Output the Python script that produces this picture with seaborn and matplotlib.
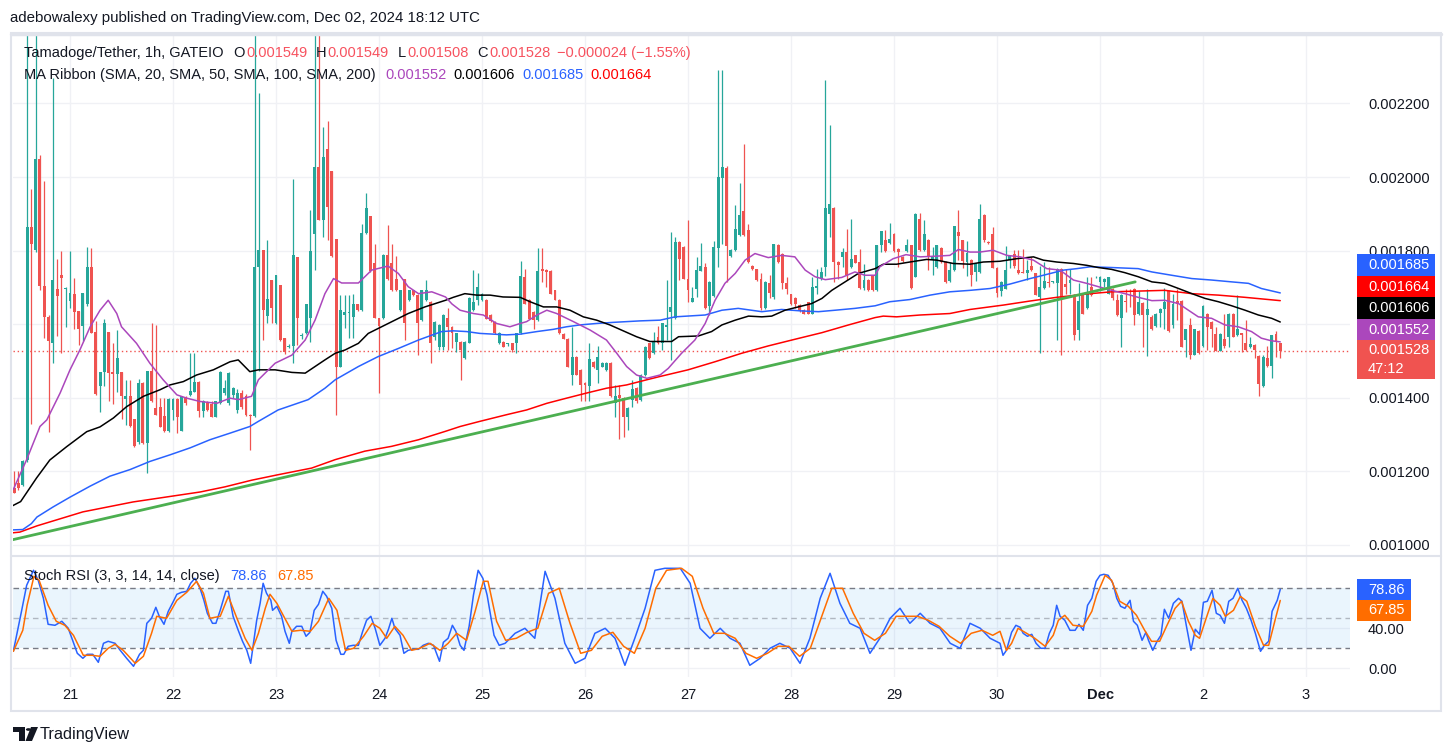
import numpy as np
import matplotlib
matplotlib.use("Agg")
import matplotlib.pyplot as plt
import seaborn as sns
from matplotlib.patches import Rectangle, Polygon, Circle
from matplotlib.lines import Line2D

# prices are in units of 1e-6 USDT, time in hours counted from Nov 21 00:00 UTC
first_hour = -13

opens = [
    1155, 1168, 1162, 1232, 1864, 1801, 2049, 1703, 1620, 1550, 1697, 1735, 1697,
    1664, 1683, 1637, 1596, 1656, 1755, 1580, 1431, 1469, 1580, 1469, 1466, 1469, 1396, 1405, 1342, 1279, 1440, 1276, 1474, 1372, 1376, 1351, 1309,
    1367, 1396, 1311, 1399, 1408, 1417, 1444, 1363, 1389, 1383, 1349, 1385, 1413, 1385, 1408, 1367, 1413, 1404, 1354, 1350, 1756, 1801, 1622, 1720,
    1602, 1706, 1563, 1537, 1541, 1783, 1568, 1575, 1616, 1846, 2028, 1884, 2076, 2015, 1832, 1485, 1625, 1630, 1620, 1654, 1638, 1848, 1893, 1765,
    1618, 1616, 1788, 1765, 1724, 1638, 1722, 1665, 1692, 1679, 1611, 1665, 1661, 1566, 1539, 1539, 1616, 1593, 1552, 1552, 1507, 1550, 1638, 1665,
    1666, 1666, 1625, 1607, 1548, 1552, 1546, 1548, 1548, 1575, 1729, 1666, 1634, 1611, 1749, 1747, 1745, 1692, 1667, 1573, 1561, 1463, 1512, 1476,
    1440, 1431, 1498, 1476, 1485, 1476, 1494, 1385, 1408, 1399, 1349, 1394, 1426, 1394, 1462, 1548, 1521, 1566, 1548, 1593, 1634, 1616, 1823, 1810,
    1724, 1661, 1697, 1745, 1756, 1650, 1677, 1808, 1998, 2024, 1784, 1801, 1842, 1907, 1855, 1758, 1749, 1724, 1643, 1711, 1675, 1815, 1792, 1711,
    1681, 1672, 1652, 1638, 1659, 1629, 1699, 1724, 1756, 1900, 1916, 1769, 1783, 1797, 1756, 1787, 1769, 1699, 1720, 1733, 1692, 1814, 1830, 1821,
    1846, 1804, 1783, 1799, 1814, 1729, 1887, 1801, 1830, 1774, 1756, 1808, 1769, 1717, 1747, 1851, 1828, 1769, 1774, 1742, 1742, 1898, 1823, 1844,
    1754, 1690, 1697, 1774, 1790, 1748, 1742, 1738, 1758, 1738, 1673, 1699, 1716, 1714, 1711, 1751, 1708, 1712, 1679, 1584, 1683, 1643, 1701, 1727,
    1715, 1715, 1683, 1697, 1665, 1616, 1662, 1661, 1697, 1628, 1658, 1625, 1620, 1596, 1631, 1641, 1690, 1598, 1663, 1663, 1557, 1598, 1517, 1582,
    1541, 1629, 1607, 1573, 1528, 1559, 1566, 1629, 1571, 1575, 1548, 1537, 1544, 1514, 1431, 1507, 1487, 1573, 1549,
]
highs = [
    1200, 1200, 1232, 2400, 1968, 2400, 2060, 1990, 1625, 2269, 1776, 1798, 1702,
    1798, 1726, 1637, 1686, 1810, 1808, 1608, 1469, 1613, 1580, 1548, 1585, 1469, 1449, 1449, 1342, 1450, 1442, 1474, 1602, 1598, 1399, 1399, 1399,
    1399, 1399, 1404, 1404, 1521, 1521, 1446, 1394, 1391, 1392, 1392, 1473, 1449, 1470, 1430, 1425, 1420, 1410, 1356, 2400, 2227, 1801, 1828, 1720,
    1735, 1706, 1563, 1545, 1995, 1783, 1575, 1656, 1909, 2400, 2400, 2135, 2153, 2015, 1832, 1679, 1679, 1679, 1681, 1656, 1871, 1957, 1895, 1819,
    1618, 1790, 1869, 1819, 1784, 1694, 1724, 1694, 1694, 1681, 1694, 1719, 1663, 1609, 1600, 1627, 1643, 1595, 1577, 1555, 1554, 1674, 1747, 1738,
    1684, 1668, 1627, 1609, 1579, 1554, 1550, 1550, 1577, 1771, 1749, 1668, 1636, 1806, 1806, 1750, 1747, 1694, 1669, 1575, 1563, 1593, 1514, 1478,
    1442, 1548, 1500, 1540, 1496, 1496, 1496, 1435, 1435, 1401, 1374, 1449, 1430, 1464, 1541, 1550, 1580, 1594, 1604, 1720, 1850, 1837, 1826, 1813,
    1884, 1702, 1783, 1821, 1767, 1717, 1825, 2290, 2290, 2030, 1803, 1925, 1984, 2091, 1871, 1760, 1751, 1738, 1717, 1733, 1819, 1819, 1794, 1729,
    1683, 1674, 1654, 1640, 1661, 1727, 1749, 1756, 2263, 2142, 1918, 1771, 1806, 1858, 1886, 1789, 1805, 1763, 1722, 1735, 1816, 1854, 1857, 1876,
    1848, 1806, 1785, 1832, 1816, 1902, 1902, 1882, 1832, 1810, 1816, 1810, 1771, 1769, 1868, 1909, 1830, 1826, 1776, 1767, 1927, 1900, 1825, 1864,
    1756, 1717, 1812, 1789, 1801, 1801, 1804, 1774, 1783, 1740, 1758, 1769, 1756, 1718, 1753, 1753, 1751, 1751, 1681, 1713, 1685, 1729, 1729, 1731,
    1731, 1726, 1729, 1699, 1681, 1681, 1697, 1697, 1699, 1690, 1661, 1697, 1624, 1631, 1643, 1699, 1692, 1683, 1697, 1665, 1588, 1616, 1588, 1584,
    1651, 1631, 1609, 1593, 1575, 1627, 1631, 1631, 1679, 1577, 1611, 1566, 1546, 1516, 1516, 1541, 1572, 1582, 1549,
]
lows = [
    1140, 1150, 1160, 1225, 1329, 1795, 1692, 1562, 1306, 1494, 1568, 1523, 1593,
    1645, 1588, 1543, 1553, 1650, 1575, 1408, 1361, 1431, 1392, 1383, 1415, 1342, 1325, 1320, 1265, 1275, 1274, 1196, 1388, 1352, 1320, 1306, 1307,
    1340, 1304, 1309, 1380, 1405, 1415, 1349, 1349, 1365, 1347, 1347, 1383, 1408, 1380, 1400, 1360, 1370, 1350, 1259, 1348, 1474, 1557, 1602, 1602,
    1600, 1555, 1520, 1535, 1494, 1543, 1560, 1573, 1552, 1746, 1882, 1837, 1828, 1783, 1354, 1483, 1590, 1563, 1563, 1636, 1636, 1846, 1743, 1616,
    1413, 1614, 1720, 1690, 1690, 1636, 1557, 1663, 1677, 1516, 1609, 1663, 1494, 1557, 1530, 1530, 1530, 1534, 1525, 1449, 1505, 1548, 1636, 1652,
    1664, 1613, 1607, 1573, 1546, 1537, 1540, 1525, 1521, 1573, 1654, 1613, 1588, 1609, 1715, 1700, 1681, 1665, 1573, 1559, 1483, 1435, 1461, 1390,
    1390, 1390, 1480, 1440, 1483, 1474, 1402, 1349, 1287, 1294, 1313, 1376, 1385, 1392, 1460, 1505, 1519, 1546, 1530, 1557, 1502, 1614, 1720, 1722,
    1661, 1660, 1675, 1744, 1641, 1625, 1675, 1756, 1819, 1714, 1782, 1799, 1840, 1840, 1767, 1747, 1718, 1638, 1641, 1670, 1668, 1765, 1695, 1683,
    1652, 1645, 1634, 1627, 1627, 1627, 1683, 1720, 1731, 1837, 1714, 1724, 1756, 1720, 1754, 1765, 1697, 1692, 1690, 1690, 1690, 1796, 1797, 1819,
    1797, 1756, 1770, 1797, 1697, 1727, 1799, 1799, 1747, 1733, 1754, 1767, 1711, 1715, 1745, 1774, 1754, 1731, 1704, 1717, 1740, 1823, 1819, 1752,
    1675, 1677, 1695, 1753, 1753, 1736, 1738, 1720, 1745, 1678, 1523, 1697, 1701, 1712, 1557, 1517, 1683, 1683, 1557, 1557, 1627, 1641, 1677, 1725,
    1690, 1700, 1681, 1667, 1622, 1539, 1634, 1647, 1598, 1626, 1539, 1514, 1584, 1592, 1592, 1587, 1580, 1589, 1611, 1537, 1512, 1505, 1515, 1519,
    1539, 1530, 1539, 1526, 1526, 1534, 1539, 1564, 1569, 1524, 1528, 1535, 1508, 1404, 1429, 1484, 1454, 1512, 1508,
]
closes = [
    1142, 1155, 1227, 1864, 1819, 2049, 1703, 1620, 1553, 1721, 1676, 1726, 1699,
    1686, 1632, 1586, 1686, 1755, 1577, 1410, 1469, 1602, 1467, 1464, 1507, 1404, 1405, 1324, 1268, 1440, 1276, 1474, 1390, 1354, 1322, 1311, 1396,
    1396, 1349, 1404, 1385, 1419, 1444, 1363, 1392, 1367, 1349, 1390, 1471, 1426, 1467, 1426, 1413, 1376, 1354, 1350, 1756, 1801, 1638, 1668, 1643,
    1735, 1557, 1524, 1539, 1788, 1616, 1571, 1656, 1799, 2028, 1884, 2054, 1918, 1785, 1485, 1638, 1634, 1634, 1654, 1638, 1848, 1916, 1745, 1618,
    1596, 1788, 1722, 1692, 1692, 1692, 1602, 1692, 1679, 1602, 1692, 1692, 1548, 1607, 1598, 1625, 1593, 1577, 1575, 1530, 1552, 1672, 1661, 1702,
    1681, 1615, 1609, 1575, 1577, 1539, 1548, 1530, 1575, 1731, 1656, 1615, 1611, 1745, 1745, 1742, 1683, 1667, 1575, 1561, 1485, 1512, 1463, 1435,
    1435, 1505, 1485, 1512, 1494, 1494, 1404, 1405, 1399, 1349, 1372, 1423, 1390, 1462, 1539, 1507, 1552, 1548, 1602, 1598, 1648, 1823, 1778, 1724,
    1694, 1672, 1747, 1758, 1643, 1715, 1810, 2000, 2027, 1812, 1801, 1858, 1896, 1842, 1769, 1749, 1720, 1643, 1715, 1686, 1817, 1768, 1713, 1697,
    1654, 1656, 1636, 1629, 1629, 1700, 1703, 1741, 1916, 1927, 1769, 1760, 1797, 1733, 1776, 1767, 1699, 1719, 1692, 1692, 1814, 1852, 1799, 1832,
    1799, 1796, 1772, 1814, 1699, 1900, 1801, 1844, 1783, 1785, 1814, 1769, 1715, 1747, 1866, 1839, 1772, 1794, 1733, 1765, 1887, 1828, 1821, 1754,
    1686, 1715, 1747, 1787, 1757, 1738, 1740, 1748, 1747, 1680, 1700, 1718, 1713, 1716, 1751, 1668, 1700, 1719, 1571, 1664, 1629, 1688, 1679, 1729,
    1729, 1724, 1727, 1670, 1624, 1679, 1659, 1659, 1625, 1661, 1625, 1640, 1588, 1629, 1641, 1661, 1582, 1654, 1654, 1539, 1586, 1517, 1586, 1521,
    1649, 1593, 1586, 1528, 1573, 1541, 1629, 1566, 1586, 1571, 1530, 1546, 1530, 1438, 1512, 1486, 1570, 1552, 1528,
]

# moving averages (hour, value)
sma20_h = [-13.2, -10.1, -7, -5.4, -2.3, 0, 2.3, 4.7, 7, 8.9, 10.9, 12, 15.5, 18.6, 21.7, 24.9, 27.2, 30.3, 34.2, 37.3,
           39.2, 42.3, 43.9, 47.8, 51.7, 54.8, 57.1, 59.4, 61.4, 63.3, 67.2, 70.3, 74.1, 76.5, 78.8, 81.2, 84.3, 87.5, 89,
           90.9, 94, 96.3, 99.4, 102.5, 104.9, 106.4, 108.8, 111.1, 113.4, 117.3, 121.2, 125, 127.4, 129.7, 132, 134.4, 137.5,
           139.4, 142.5, 145.6, 148, 150.3, 152.6, 155, 157.3, 159.6, 162.7, 165.8, 168.9, 171.3, 173.6, 176, 179.8, 182.9, 185.2, 187.6,
           188.7, 191.8, 194.8, 198.1, 202, 205, 207, 209.7, 212, 215.1, 218.3, 221.4, 224.5, 227.6, 230.7, 233.8, 236.9,
           239.6, 242.7, 245.8, 248.9, 252.1, 255.1, 258.3, 260.6, 262.9, 266, 269.1, 272.2, 275.3, 277.6, 279.9, 282]
sma20_v = [1151, 1232, 1322, 1340, 1413, 1476, 1530, 1593, 1638, 1665, 1629, 1593, 1548, 1494, 1449, 1408, 1399, 1390, 1385, 1399,
           1395, 1404, 1449, 1494, 1516, 1557, 1611, 1683, 1724, 1712, 1712, 1747, 1758, 1738, 1702, 1683, 1688, 1674, 1655,
           1638, 1629, 1625, 1602, 1593, 1602, 1607, 1625, 1638, 1629, 1607, 1584, 1557, 1521, 1485, 1462, 1453, 1462,
           1480, 1521, 1557, 1602, 1665, 1711, 1738, 1774, 1792, 1781, 1787, 1783, 1747, 1729, 1721, 1727, 1742, 1733, 1733,
           1756, 1778, 1789, 1783, 1785, 1787, 1803, 1796, 1796, 1801, 1787, 1783, 1774, 1751, 1747, 1720, 1711,
           1702, 1692, 1683, 1673, 1664, 1665, 1656, 1638, 1620, 1616, 1598, 1593, 1580, 1562, 1555, 1552]

sma50_h = [-13.5, -11.5, -7.8, -4.7, -0.8, 3.9, 7, 10.1, 13.2, 17.1, 21, 23.3, 26.4, 29.5, 33.4, 37.3, 39.2, 41.9, 43.9, 47.8,
           51.7, 54.8, 57.1, 59.4, 61.8, 64.1, 67.2, 69.5, 72.6, 75.7, 78.8, 82.7, 87.5, 89.3, 92, 94.8, 97.9, 100.9, 104.9,
           107.2, 110.3, 113.4, 116.5, 119.6, 122.7, 125.8, 128.9, 132, 135.1, 137.5, 140.2, 141.8, 146.4, 149.5, 151.9, 155,
           158.1, 161.2, 163.5, 166.6, 169.7, 172.8, 175.2, 177.5, 180.6, 183.7, 187.6, 189.5, 192.6, 195.7, 199.6, 202, 205.8,
           209.7, 212.8, 216.7, 220.6, 224.5, 226.8, 229.9, 233.8, 236.9, 239.6, 242.7, 245.8, 248.9, 252.1, 255.1, 258.3,
           261.4, 264.5, 267.6, 270.7, 273.8, 276.9, 280, 282]
sma50_v = [1106, 1118, 1182, 1231, 1267, 1308, 1321, 1345, 1376, 1404, 1422, 1435, 1444, 1462, 1476, 1498, 1503, 1471, 1476, 1476,
           1469, 1467, 1485, 1503, 1521, 1530, 1548, 1575, 1593, 1611, 1629, 1647, 1665, 1673, 1683, 1679, 1679, 1674, 1673,
           1661, 1647, 1647, 1638, 1620, 1611, 1598, 1582, 1566, 1553, 1553, 1553, 1566, 1568, 1580, 1598, 1611,
           1622, 1620, 1622, 1638, 1647, 1656, 1670, 1692, 1715, 1738, 1751, 1763, 1763, 1769, 1776, 1774, 1765,
           1763, 1769, 1771, 1778, 1783, 1774, 1769, 1765, 1760, 1754, 1749, 1740, 1729, 1715, 1711, 1697,
           1683, 1670, 1661, 1650, 1638, 1625, 1616, 1606]

sma100_h = [-13.5, -11, -9, -7.7, -4, 0, 4.7, 9.3, 14, 18.6, 23.3, 28, 32.6, 37.3, 41.9, 43.9, 48.5, 55.5, 59.4, 61.8,
            67.2, 71.8, 76.5, 81.2, 86.6, 89.3, 92.4, 95.5, 98.6, 101.7, 104.9, 108.8, 112.6, 115.7, 118.8, 122.7, 126.6,
            129.7, 132.8, 137.5, 141, 148, 151.9, 155.7, 161.2, 165.8, 170.5, 174.4, 178.3, 182.9, 187.6, 191, 195.7,
            200.4, 205, 209.7, 214.4, 219, 223.7, 226.8, 231.5, 234.6, 237.7, 242.7, 248.9, 252.1, 256.7, 261.4, 266,
            270.7, 274.6, 277.6, 282]
sma100_v = [1041, 1042, 1058, 1076, 1103, 1130, 1160, 1187, 1205, 1227, 1245, 1264, 1286, 1304, 1322, 1336, 1367, 1395, 1426, 1449,
            1485, 1512, 1534, 1557, 1580, 1582, 1580, 1575, 1573, 1571, 1573, 1580, 1586, 1593, 1598, 1602, 1605,
            1607, 1609, 1611, 1620, 1625, 1638, 1643, 1634, 1640, 1636, 1634, 1638, 1643, 1650, 1661, 1667,
            1679, 1688, 1692, 1697, 1709, 1724, 1733, 1747, 1751, 1756, 1754, 1751, 1742, 1733, 1724, 1720,
            1715, 1711, 1697, 1685]

sma200_h = [-13.5, -11.7, -7.7, 3, 14.7, 30.3, 36.1, 42.3, 48.5, 56.3, 61.8, 68.7, 74.9, 81.2, 87.5, 90.9, 95.5, 101.7,
            106.4, 111.1, 115.7, 120.4, 125, 129.7, 134.4, 137.5, 144, 150.3, 156.5, 162.7, 168.9, 175.2, 181.4, 187.6,
            189.5, 192.6, 198.1, 205, 209.7, 217.5, 223.7, 229.9, 237.7, 242.7, 248.9, 255.1, 261.4, 267.6, 273.8, 282]
sma200_v = [1033, 1035, 1052, 1090, 1117, 1144, 1158, 1176, 1191, 1209, 1232, 1255, 1268, 1286, 1309, 1322, 1336, 1354,
            1367, 1385, 1399, 1413, 1426, 1435, 1449, 1458, 1476, 1498, 1521, 1541, 1559, 1577, 1598, 1618,
            1622, 1620, 1625, 1629, 1640, 1652, 1663, 1673, 1683, 1688, 1690, 1692, 1683, 1679, 1673, 1664]

trend_h = [-13.5, 248.2]
trend_v = [1014, 1715]

last_price = closes[-1]
prev_close = closes[-2]
countdown = "47:12"

# Stoch RSI (3, 3, 14, 14)
stoch_k_h = [-13.2, -11.3, -10.1, -8.5, -7.4, -6.2, -5.1, -3.5, -1.9, -0.4, 1.7, 3, 4, 5.3, 6.6, 7.8, 8.9, 10.5, 11.7, 13.2,
             14.8, 16.2, 17.1, 17.9, 19, 20, 20.8, 21.9, 22.9, 24.1, 24.9, 26, 27.2, 28.1, 29.1, 30.3, 31.2, 32, 33.2, 34,
             35, 36.3, 36.9, 38, 39.2, 40.2, 41.2, 42.1, 43.5, 44.3, 45, 45.8, 46.8, 47.2, 48.2, 49.3, 50.1, 51.1, 51.7, 52.8,
             54, 55, 55.9, 56.9, 57.9, 58.9, 59.8, 61, 62, 63.1, 63.8, 64.8, 66, 67.2, 68.2, 69.1, 70.1, 71.1, 72.2, 73.4,
             74.2, 75, 75.7, 76.9, 77.8, 78.8, 80, 81.2, 82.3, 83.5, 84.7, 86.1, 87, 88.1, 89.1, 89.9, 90.9, 91.8, 93, 94,
             95.1, 96.2, 97.2, 98.8, 100,
             101.4, 103.7, 106, 108.3, 110.7, 113, 115.3, 117.7, 120, 122.3, 124.7, 127, 129.3, 131.6, 134, 136.3, 138.6,
             142.2, 144.5, 146.8, 149.1, 151.5, 153.8, 156.1, 158.4, 160.8, 163.1, 165.4, 167.8, 170.1, 172.4, 174.8, 177.1,
             179.4, 181.7, 184.1, 186.4, 188.7, 191.1, 193.4, 195.7, 198.1, 200.4, 202.7, 205.1, 207.4, 209.7, 212.1, 214.4,
             216.7, 217.4, 218.2, 219.4, 220.4, 221.4, 222.1, 223.1, 224.1, 225.1, 226.2, 227.2, 228.2, 229.1, 229.9, 230.7,
             231.8, 233, 234.2, 235.1, 236.1, 237.1, 238.1, 239.1, 240, 240.9, 241.9, 243, 243.9, 244.8, 245.8, 247, 247.8,
             248.7, 249.8, 250.7, 251.3, 252.3, 253.3, 254.2, 255, 256, 257.1, 258.3, 259.1, 260.1, 261.2, 262.2, 263.2,
             264.1, 265, 266.1, 267.1, 268, 269, 270, 271, 272.1, 273.1, 274.1, 275.2, 276.2, 277.4, 278.3, 279.3, 280.1,
             281.3, 282]
stoch_k = [17, 57, 83, 98, 88, 70, 44, 43, 47, 40, 15, 10, 14, 14, 6, 25, 27, 25, 18, 10,
           2, 14, 18, 45, 50, 61, 52, 44, 57, 67, 74, 76, 77, 85, 90, 80, 68, 55, 45, 45,
           58, 77, 77, 52, 38, 27, 18, 5, 48, 65, 85, 75, 68, 58, 62, 52, 37, 25, 37, 42,
           42, 32, 36, 58, 64, 77, 72, 60, 28, 14, 14, 22, 23, 23, 37, 48, 52, 40, 23, 30,
           39, 50, 40, 33, 15, 18, 19, 19, 23, 25, 23, 7, 26, 30, 43, 37, 23, 18, 42, 73,
           98, 90, 73, 33, 23,
           25, 35, 40, 30, 97, 70, 25, 5, 10, 35, 40, 30, 3, 30, 60, 98, 100,
           100, 85, 40, 30, 40, 30, 25, 3, 10, 20, 25, 20, 5, 30, 70, 95,
           65, 45, 40, 15, 30, 50, 60, 45, 55, 45, 40, 25, 20, 45, 40, 30,
           25, 13, 18, 36, 43, 41, 35, 32, 34, 25, 20, 20, 35, 43, 63, 52,
           48, 38, 38, 44, 38, 63, 70, 87, 93, 94, 93, 85, 70, 62, 60, 68, 47,
           43, 28, 36, 28, 18, 27, 33, 59, 50, 65, 70, 67, 43, 18, 39, 34,
           66, 67, 78, 55, 53, 45, 67, 70, 80, 68, 60, 48, 35, 17, 23, 27, 57,
           68, 78.86]

stoch_d_h = [-13.2, -11, -10, -8.4, -7.2, -5.1, -3.2, -1.2, 0.8, 3.1, 5.1, 7, 8.9, 10.5, 12.4, 15.2, 17.1, 19, 20.2, 22.5,
             24.9, 27.2, 29.5, 31.1, 32.6, 35, 36.9, 38.9, 40.8, 42.4, 43.9, 45.5, 46.6, 48.2, 49.8, 51.7, 53.7, 56, 57.9,
             60.3, 62.2, 64.2, 66.1, 68.4, 70.4, 72.2, 73.8, 75.7, 77.6, 79.6, 81.5, 83.9, 86.2, 88.1, 90.1, 92.4, 94.4, 96.3,
             97.4, 99.4,
             101.5, 104, 106.5, 109, 111.5, 114, 116.5, 119, 121.5, 124, 126.5, 129, 131.5, 134, 136.5, 139, 142.5, 145,
             147.5, 150, 152.5, 155, 157.5, 160, 162.5, 165, 167.5, 170, 172.5, 175, 177.5, 180, 182.5, 185, 187.5, 190,
             192.5, 195, 197.5, 200, 202.5, 205, 207.5, 210, 212.5, 215,
             216.7, 218.2, 219.4, 220.9, 222.9, 224.8, 227.2, 229.1, 230.3, 231.8, 233.7, 236.1, 238.1, 239.2, 241.2, 242.7,
             244.6, 246.6, 248.5, 250.4, 252, 253.9, 255.5, 257.5, 259, 260.6, 262.2, 263.2, 264.5, 266.3, 268, 269.2, 271.1,
             272.7, 274.2, 276.2, 278.1, 279.3, 280.9, 282]
stoch_d = [17, 38, 63, 92, 88, 63, 47, 43, 33, 13, 13, 12, 20, 24, 18, 5, 12, 35, 52, 50,
           68, 76, 87, 75, 50, 52, 72, 50, 30, 18, 35, 60, 74, 65, 52, 37, 38, 37, 47,
           70, 58, 18, 20, 32, 45, 40, 30, 42, 33, 18, 20, 25, 18, 25, 35, 28, 57, 87,
           87, 47,
           28, 30, 36, 40, 75, 80, 45, 15, 18, 32, 36, 22, 15, 40, 80, 98, 100, 92,
           60, 35, 35, 30, 15, 10, 15, 22, 22, 12, 20, 50, 80, 80, 55, 35, 28, 35,
           52, 52, 52, 48, 42, 32, 25, 35, 38, 33,
           37, 18, 25, 40, 35, 30, 22, 33, 48, 53, 43, 42, 57, 73, 93, 88,
           67, 62, 53, 38, 27, 27, 42, 60, 67, 47, 33, 30, 47, 70, 63, 52, 58,
           72, 67, 42, 23, 23, 50, 67.85]

day_ticks = [0, 24, 48, 72, 96, 120, 144, 168, 192, 216, 240, 264, 288]
day_labels = ["21", "22", "23", "24", "25", "26", "27", "28", "29", "30", "Dec", "2", "3"]
price_ticks = [1000, 1200, 1400, 1600, 1800, 2000, 2200]
hidden_price_ticks = [1600]   # covered by the value labels on the scale
stoch_ticks = [0, 40]

# ---------------------------------------------------------------
W, H = 1454, 756
sns.set_style("white")
plt.rcParams["font.family"] = ["Liberation Sans", "DejaVu Sans"]
TXT = "#131722"
UP, DOWN = "#26a69a", "#ef5350"
FS = 10.5


def fx(px):
    return px / W


def fy(py):
    return 1 - py / H


fig = plt.figure(figsize=(W / 100, H / 100), dpi=100)
ax = fig.add_axes([fx(13), fy(555), (1350 - 13) / W, (555 - 35) / H])
ax2 = fig.add_axes([fx(13), fy(677), (1350 - 13) / W, (677 - 557) / H], sharex=ax)

o = np.array(opens, float)
h_ = np.array(highs, float)
l_ = np.array(lows, float)
c = np.array(closes, float)
hours = np.arange(first_hour, first_hour + len(c))
cols = np.where(c >= o, UP, DOWN)

# candles
ax.vlines(hours, l_, h_, colors=cols, lw=0.9, zorder=2)
ax.bar(hours, np.maximum(np.abs(c - o), 2.5), bottom=np.minimum(o, c), width=0.68,
       color=cols, linewidth=0, zorder=2)

# moving average ribbon + trend line
sns.lineplot(x=sma200_h, y=sma200_v, ax=ax, color="#ff0000", lw=1.1, zorder=3)
sns.lineplot(x=sma100_h, y=sma100_v, ax=ax, color="#2962ff", lw=1.1, zorder=3)
sns.lineplot(x=sma50_h, y=sma50_v, ax=ax, color="#000000", lw=1.1, zorder=3)
sns.lineplot(x=sma20_h, y=sma20_v, ax=ax, color="#ab47bc", lw=1.1, zorder=3)
sns.lineplot(x=trend_h, y=trend_v, ax=ax, color="#4caf50", lw=2.0, zorder=3)
ax.axhline(last_price, color="#f05350", lw=1, ls=(0, (1, 2)), zorder=1)

ax.set_xlim((13 - 70) / 4.2917, (1350 - 70) / 4.2917)
ax.set_ylim(1000 - 10 * 2.7174, 1000 + 510 * 2.7174)
ax.set_yticks(price_ticks)
ax.set_yticklabels(["" if v in hidden_price_ticks else f"{v / 1e6:.6f}" for v in price_ticks])
ax.yaxis.tick_right()
ax.set_xticks(day_ticks)
ax.tick_params(axis="x", labelbottom=False, length=0)
ax.tick_params(axis="y", length=0, pad=13, labelsize=FS, labelcolor=TXT)
ax.grid(True, color="#f0f1f5", lw=1)
ax.set_xlabel("")
ax.set_ylabel("")
for s in ax.spines.values():
    s.set_visible(False)

# stoch rsi panel
ax2.axhspan(20, 80, color="#2196f3", alpha=0.09, lw=0)
ax2.axhline(80, color="#787b86", lw=1, ls=(0, (4, 3)))
ax2.axhline(20, color="#787b86", lw=1, ls=(0, (4, 3)))
ax2.axhline(50, color="#787b86", lw=1, ls=(0, (4, 3)), alpha=0.5)
sns.lineplot(x=stoch_k_h, y=stoch_k, ax=ax2, color="#2962ff", lw=1.1, zorder=3)
sns.lineplot(x=stoch_d_h, y=stoch_d, ax=ax2, color="#ff6d00", lw=1.1, zorder=3)
ax2.set_ylim(668.3 - 677, 668.3 - 557)
ax2.set_yticks(stoch_ticks)
ax2.set_yticklabels([f"{v:.2f}" for v in stoch_ticks])
ax2.yaxis.tick_right()
ax2.set_xticks(day_ticks)
ax2.set_xticklabels(day_labels)
ax2.tick_params(axis="x", length=0, pad=8, labelsize=FS, labelcolor=TXT)
ax2.tick_params(axis="y", length=0, pad=13, labelsize=FS, labelcolor=TXT)
for lbl in ax2.get_xticklabels():
    if lbl.get_text() == "Dec":
        lbl.set_fontweight("bold")
ax2.grid(True, color="#f0f1f5", lw=1)
ax2.set_xlabel("")
ax2.set_ylabel("")
for s in ax2.spines.values():
    s.set_visible(False)

# frame and separators
fig.add_artist(Rectangle((fx(11), fy(711)), (1441 - 11) / W, (711 - 33) / H, transform=fig.transFigure,
                         fill=False, ec="#e0e3eb", lw=1.5, zorder=4))
fig.add_artist(Line2D([fx(11), fx(1441)], [fy(33.5), fy(33.5)], transform=fig.transFigure, color="#e0e3eb", lw=2.5))
fig.add_artist(Line2D([fx(11), fx(1441)], [fy(556), fy(556)], transform=fig.transFigure, color="#e0e3eb", lw=1.5))


def label_box(y0, y1, x1, color, lines):
    fig.add_artist(Rectangle((fx(1357), fy(y1)), (x1 - 1357) / W, (y1 - y0) / H, transform=fig.transFigure,
                             color=color, lw=0, zorder=5))
    step = (y1 - y0) / len(lines)
    for i, t in enumerate(lines):
        fig.text(fx(1368), fy(y0 + step * (i + 0.5)), t, color="white", fontsize=FS, va="center", ha="left", zorder=6)


label_box(254.5, 276, 1435, "#2962ff", [f"{sma100_v[-1] / 1e6:.6f}"])
label_box(276, 297.5, 1435, "#ff0000", [f"{sma200_v[-1] / 1e6:.6f}"])
label_box(297.5, 319, 1435, "#000000", [f"{sma50_v[-1] / 1e6:.6f}"])
label_box(319, 340, 1435, "#ab47bc", [f"{sma20_v[-1] / 1e6:.6f}"])
label_box(340, 379, 1435, "#f05350", [f"{last_price / 1e6:.6f}", countdown])
label_box(579, 600, 1411, "#2962ff", [f"{stoch_k[-1]:.2f}"])
label_box(600, 621, 1411, "#ff6d00", [f"{stoch_d[-1]:.2f}"])

# header / legends
fig.text(fx(10), fy(18), "adebowalexy published on TradingView.com, Dec 02, 2024 18:12 UTC",
         color=TXT, fontsize=FS + 0.3, va="center")

renderer = fig.canvas.get_renderer()


def legend_row(y, x0, pieces):
    # pieces: (text, colour, gap in px before the next piece)
    x = x0
    for t, col, gap in pieces:
        txt = fig.text(fx(x), fy(y), t, color=col, fontsize=FS, va="center")
        bb = txt.get_window_extent(renderer)
        x = bb.x1 + gap


RED_T = "#f7525f"
chg = last_price - prev_close
legend_row(53, 24, [("Tamadoge/Tether, 1h, GATEIO", TXT, 10), ("O", TXT, 1), (f"{opens[-1] / 1e6:.6f}", RED_T, 9),
                    ("H", TXT, 1), (f"{highs[-1] / 1e6:.6f}", RED_T, 9), ("L", TXT, 1),
                    (f"{lows[-1] / 1e6:.6f}", RED_T, 9), ("C", TXT, 1), (f"{last_price / 1e6:.6f}", RED_T, 7),
                    (f"\u2212{abs(chg) / 1e6:.6f} (\u2212{abs(chg) / prev_close * 100:.2f}%)", RED_T, 0)])
legend_row(75, 24, [("MA Ribbon (SMA, 20, SMA, 50, SMA, 100, SMA, 200)", TXT, 10),
                    (f"{sma20_v[-1] / 1e6:.6f}", "#ab47bc", 7), (f"{sma50_v[-1] / 1e6:.6f}", "#000000", 7),
                    (f"{sma100_v[-1] / 1e6:.6f}", "#2962ff", 7), (f"{sma200_v[-1] / 1e6:.6f}", "#ff0000", 0)])
legend_row(576, 24, [("Stoch RSI (3, 3, 14, 14, close)", TXT, 11), (f"{stoch_k[-1]:.2f}", "#2962ff", 10),
                     (f"{stoch_d[-1]:.2f}", "#ff6d00", 0)])

# TradingView logo
fig.add_artist(Polygon([(fx(13), fy(727)), (fx(25), fy(727)), (fx(25), fy(741)), (fx(19), fy(741)),
                        (fx(19), fy(732)), (fx(13), fy(732))], closed=True, transform=fig.transFigure, color=TXT, lw=0))
fig.add_artist(Circle((fx(28.5), fy(729.5)), 2.6 / W, transform=fig.transFigure, color=TXT, lw=0))
fig.add_artist(Polygon([(fx(31), fy(727)), (fx(38), fy(727)), (fx(32), fy(741)), (fx(25.5), fy(741))],
                       closed=True, transform=fig.transFigure, color=TXT, lw=0))
fig.text(fx(40), fy(734.5), "TradingView", color=TXT, fontsize=11.7, va="center")

fig.savefig("out.png", dpi=100, facecolor="white")
